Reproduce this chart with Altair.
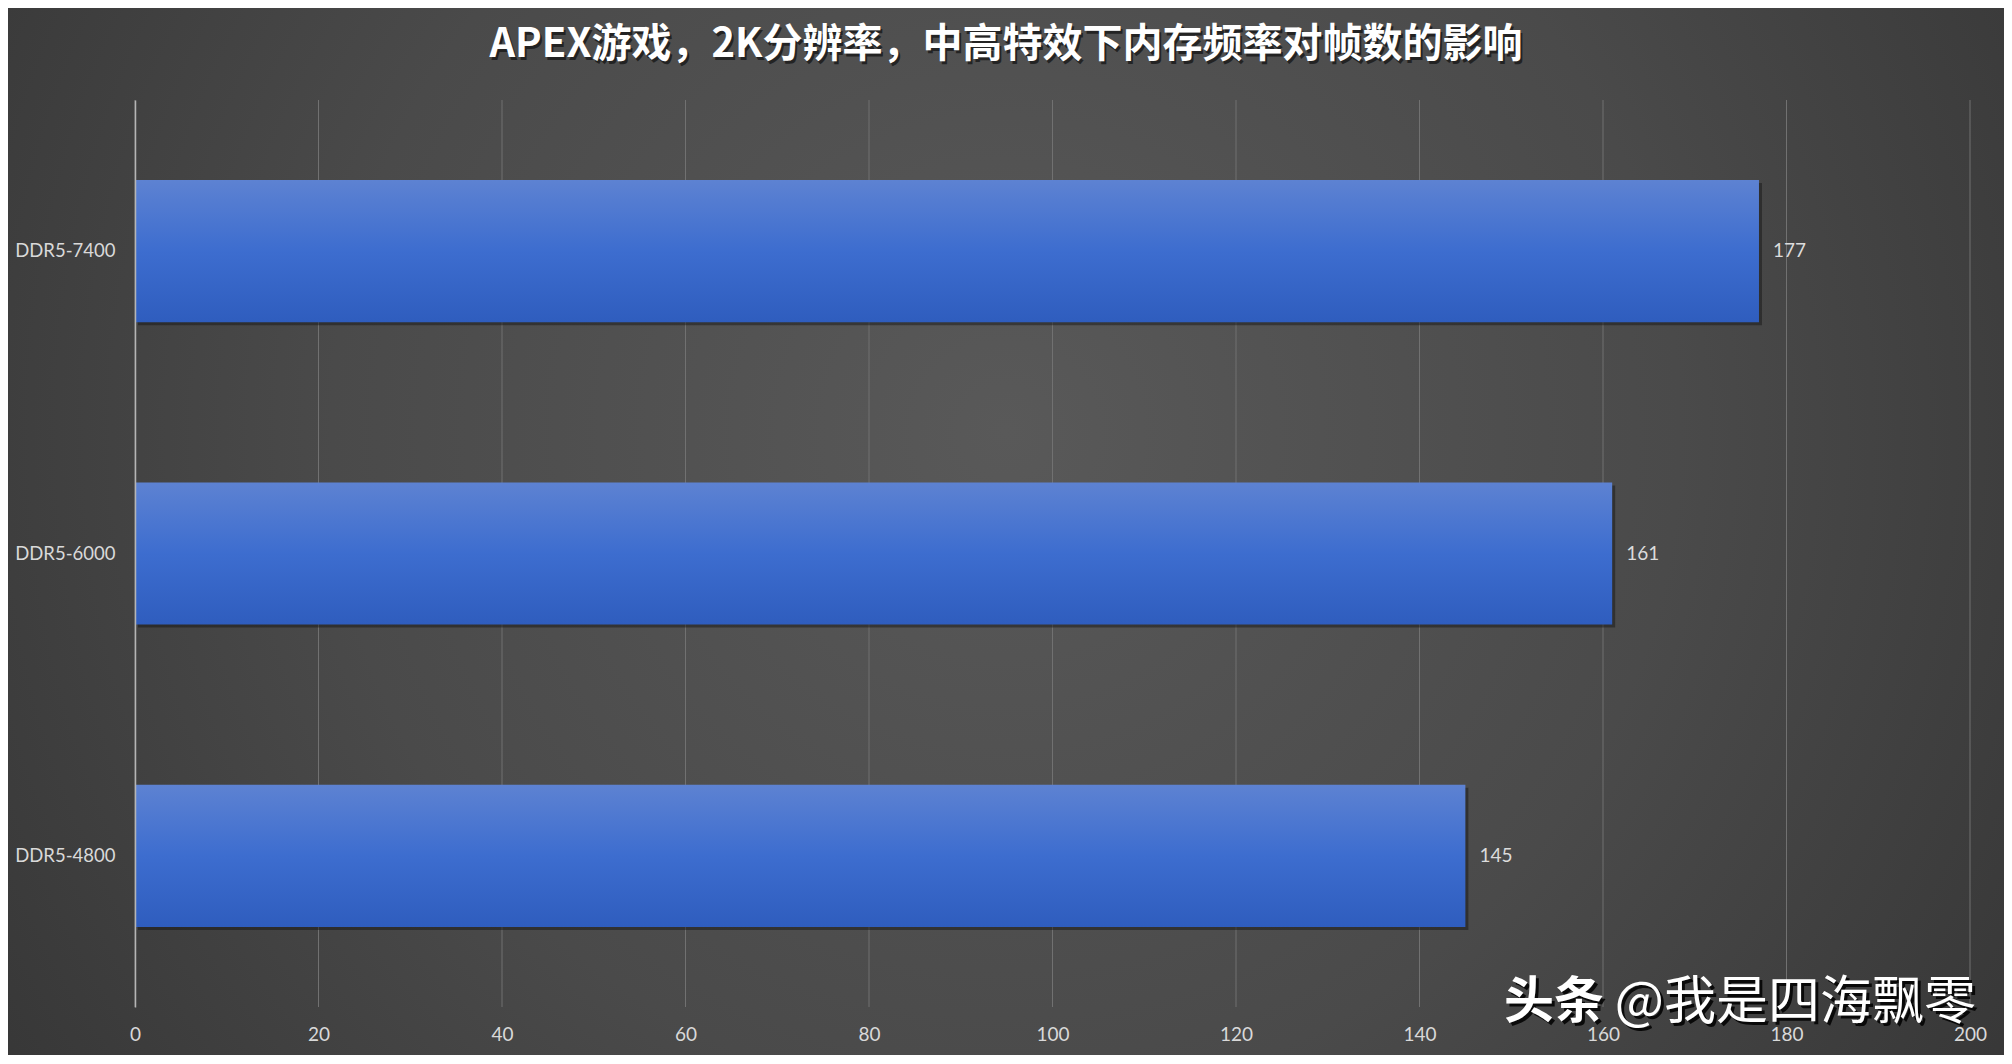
import altair as alt
import pandas as pd

categories = ["DDR5-7400", "DDR5-6000", "DDR5-4800"]
values = [177, 161, 145]
x_ticks = [0, 20, 40, 60, 80, 100, 120, 140, 160, 180, 200]
title_text = "APEX游戏，2K分辨率，中高特效下内存频率对帧数的影响"
wm_a = "头条"
wm_b = "@我是四海飘零"

W, H = 1835, 907
PL, PT, PR, PB = 127, 92, 34, 48

df = pd.DataFrame({"cat": categories, "val": values})
tick_df = pd.DataFrame({"val": x_ticks})

bg = alt.Chart(pd.DataFrame({"a": [0]})).mark_rect(
    fill=alt.Gradient(
        gradient="radial",
        x1=0.5, y1=0.45, r1=0.0, x2=0.5, y2=0.45, r2=0.75,
        stops=[alt.GradientStop(color="#595959", offset=0),
               alt.GradientStop(color="#4a4a4a", offset=0.45),
               alt.GradientStop(color="#2c2c2c", offset=1)],
    )
).encode(
    x=alt.value(-PL), x2=alt.value(W + PR), y=alt.value(-PT), y2=alt.value(H + PB)
)

xscale = alt.Scale(domain=[0, 200])
xaxis = alt.Axis(values=x_ticks, grid=False, ticks=False, domain=False,
                 labelColor="#d9d9d9", labelFontSize=19, labelFont="Lato",
                 labelPadding=18, labelFlush=False, labelOverlap=False,
                 title=None, zindex=1)

grid = alt.Chart(tick_df).mark_rule(color="#717171", strokeWidth=1).encode(
    x=alt.X("val:Q", scale=xscale, axis=xaxis), y=alt.value(0), y2=alt.value(H))

xenc = alt.X("val:Q", scale=xscale, axis=xaxis)
yenc = alt.Y("cat:N", sort=categories, scale=alt.Scale(paddingInner=0.53, paddingOuter=0.265),
             axis=alt.Axis(ticks=False, domain=True, domainColor="#b5b5b5", domainWidth=1.5,
                           labelColor="#d9d9d9", labelFontSize=18.5, labelFont="Lato",
                           labelPadding=20, title=None, zindex=1))

shadow = alt.Chart(df).mark_bar(color="#111111", opacity=0.45, xOffset=3, yOffset=3).encode(
    x=xenc, y=yenc)

bars = alt.Chart(df).mark_bar(
    fill=alt.Gradient(
        gradient="linear", x1=0, y1=0, x2=0, y2=1,
        stops=[alt.GradientStop(color="#5d82d2", offset=0),
               alt.GradientStop(color="#3d6dcf", offset=0.5),
               alt.GradientStop(color="#2f5dbe", offset=1)],
    )
).encode(x=xenc, y=yenc)

labels = alt.Chart(df).mark_text(align="left", baseline="middle", dx=14, fontSize=19,
                                 font="Lato", color="#dcdcdc").encode(
    x=xenc, y=yenc, text="val:Q")

tdf = pd.DataFrame({"t": [title_text]})
TX, TY = 1006 - 8 - PL, 45 - 100
title_shadow = alt.Chart(tdf).mark_text(font="Noto Sans CJK SC", fontWeight="bold", fontSize=40,
                                        color="#111111", opacity=0.7, align="center",
                                        baseline="middle").encode(
    x=alt.value(TX + 2), y=alt.value(TY + 3), text="t:N")
title = alt.Chart(tdf).mark_text(font="Noto Sans CJK SC", fontWeight="bold", fontSize=40,
                                 color="#ffffff", align="center", baseline="middle").encode(
    x=alt.value(TX), y=alt.value(TY), text="t:N")

WY = 1003 - 100
wa = pd.DataFrame({"t": [wm_a]})
wb = pd.DataFrame({"t": [wm_b]})
layers_wm = []
for d, xr, weight, fs in [(wa, 1604 - 8 - PL, "bold", 50), (wb, 1976 - 8 - PL, "normal", 52)]:
    layers_wm.append(alt.Chart(d).mark_text(font="Noto Sans CJK SC", fontWeight=weight, fontSize=fs,
                                            color="#000000", opacity=0.85, align="right",
                                            baseline="middle").encode(
        x=alt.value(xr + 3), y=alt.value(WY + 3), text="t:N"))
    layers_wm.append(alt.Chart(d).mark_text(font="Noto Sans CJK SC", fontWeight=weight, fontSize=fs,
                                            color="#ffffff", align="right",
                                            baseline="middle").encode(
        x=alt.value(xr), y=alt.value(WY), text="t:N"))

chart = alt.layer(bg, grid, shadow, bars, labels, title_shadow, title, *layers_wm).properties(
    width=W, height=H,
    autosize=alt.AutoSizeParams(type="none"),
    padding={"left": PL, "top": PT, "right": PR, "bottom": PB},
    background="#333333",
).configure_view(stroke=None)

chart.save("out.html", embed_options={"renderer": "svg", "actions": False})
